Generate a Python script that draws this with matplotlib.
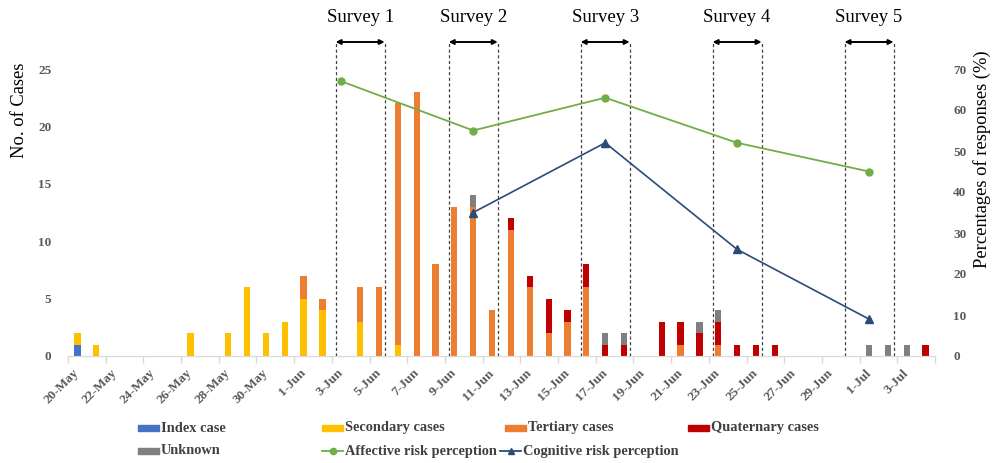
import numpy as np
import pandas as pd
import matplotlib
matplotlib.use('Agg')
import matplotlib.pyplot as plt
from matplotlib.patches import Rectangle
from matplotlib.lines import Line2D

# Daily case counts by generation, 20-May to 4-Jul
dates = pd.date_range('2020-05-20', '2020-07-04', freq='D')
date_labels = [f"{d.day}-{d.strftime('%b')}" for d in dates]

index_case = [1, 0, 0, 0, 0, 0, 0, 0, 0, 0, 0, 0, 0, 0, 0, 0,
              0, 0, 0, 0, 0, 0, 0, 0, 0, 0, 0, 0, 0, 0, 0, 0,
              0, 0, 0, 0, 0, 0, 0, 0, 0, 0, 0, 0, 0, 0]
secondary = [1, 1, 0, 0, 0, 0, 2, 0, 2, 6, 2, 3, 5, 4, 0, 3,
             0, 1, 0, 0, 0, 0, 0, 0, 0, 0, 0, 0, 0, 0, 0, 0,
             0, 0, 0, 0, 0, 0, 0, 0, 0, 0, 0, 0, 0, 0]
tertiary = [0, 0, 0, 0, 0, 0, 0, 0, 0, 0, 0, 0, 2, 1, 0, 3,
            6, 21, 23, 8, 13, 13, 4, 11, 6, 2, 3, 6, 0, 0, 0, 0,
            1, 0, 1, 0, 0, 0, 0, 0, 0, 0, 0, 0, 0, 0]
quaternary = [0, 0, 0, 0, 0, 0, 0, 0, 0, 0, 0, 0, 0, 0, 0, 0,
              0, 0, 0, 0, 0, 0, 0, 1, 1, 3, 1, 2, 1, 1, 0, 3,
              2, 2, 2, 1, 1, 1, 0, 0, 0, 0, 0, 0, 0, 1]
unknown = [0, 0, 0, 0, 0, 0, 0, 0, 0, 0, 0, 0, 0, 0, 0, 0,
           0, 0, 0, 0, 0, 1, 0, 0, 0, 0, 0, 0, 1, 1, 0, 0,
           0, 1, 1, 0, 0, 0, 0, 0, 0, 0, 1, 1, 1, 0]

# Survey results (% of responses)
affective_dates = ['3-Jun', '10-Jun', '17-Jun', '24-Jun', '1-Jul']
affective = [67, 55, 63, 52, 45]
cognitive_dates = ['10-Jun', '17-Jun', '24-Jun', '1-Jul']
cognitive = [35, 52, 26, 9]

# Survey windows on the date axis (category units)
survey_names = ['Survey 1', 'Survey 2', 'Survey 3', 'Survey 4', 'Survey 5']
survey_start = [13.7, 19.7, 26.7, 33.7, 40.7]
survey_end = [16.3, 22.3, 29.3, 36.3, 43.3]

SERIF = 'Liberation Serif'
TICK_GREY = '#595959'
colors = {
    'Index case': '#4472C4',
    'Secondary cases': '#FFC000',
    'Tertiary cases': '#ED7D31',
    'Quaternary cases': '#C00000',
    'Unknown': '#7F7F7F',
}
GREEN = '#70AD47'
NAVY = '#2B4A7A'

W, H = 992, 463
fig = plt.figure(figsize=(W / 100, H / 100), dpi=100)
fig.subplots_adjust(left=68 / W, right=935 / W, bottom=1 - 356 / H, top=1 - 69 / H)
ax = fig.add_subplot(111)
ax2 = ax.twinx()

x = np.arange(len(dates))
pos = {lab: i for i, lab in enumerate(date_labels)}

# stacked bars
bottom = np.zeros(len(x))
for name, vals in [('Index case', index_case), ('Secondary cases', secondary),
                   ('Tertiary cases', tertiary), ('Quaternary cases', quaternary),
                   ('Unknown', unknown)]:
    vals = np.array(vals, dtype=float)
    ax.bar(x, vals, width=0.33, bottom=bottom, color=colors[name], zorder=2)
    bottom += vals

ax.set_xlim(-0.5, len(x) - 0.5)
ax.set_ylim(0, 25)
ax.set_yticks(range(0, 26, 5))
ax2.set_ylim(0, 70)
ax2.set_yticks(range(0, 71, 10))

# x axis: labels every second day, small ticks on the category boundaries
ax.set_xticks(x[::2])
ax.set_xticklabels(date_labels[::2], rotation=45, ha='right', va='center',
                   rotation_mode='anchor')
ax.set_xticks(np.arange(-0.5, len(x), 2), minor=True)
ax.tick_params(axis='x', which='major', length=0, pad=11)
ax.tick_params(axis='x', which='minor', length=5, color='#D9D9D9', width=1)
ax.tick_params(axis='y', length=0, pad=12)
ax2.tick_params(axis='y', length=0, pad=13)

for a in (ax, ax2):
    for s in ('top', 'left', 'right'):
        a.spines[s].set_visible(False)
    a.spines['bottom'].set_color('#D9D9D9')
    for lab in a.get_xticklabels() + a.get_yticklabels():
        lab.set_fontfamily(SERIF)
        lab.set_fontweight('bold')
        lab.set_color(TICK_GREY)
        lab.set_fontsize(9.5)

# risk perception lines
ax2.plot([pos[d] for d in affective_dates], affective, color=GREEN, lw=1.3,
         marker='o', ms=5, zorder=4)
ax2.plot([pos[d] for d in cognitive_dates], cognitive, color=NAVY, lw=1.2,
         marker='^', ms=5.5, zorder=4)

# survey windows: dashed bounds, double arrow and title above the plot
trans = ax.get_xaxis_transform()
top_y = (356 - 42) / 287
for name, x0, x1 in zip(survey_names, survey_start, survey_end):
    for xv in (x0, x1):
        ax.plot([xv, xv], [0, top_y], transform=trans, color='#404040',
                lw=0.9, ls=(0, (2.5, 2)), clip_on=False, zorder=3)
    ax.annotate('', xy=(x1, top_y), xytext=(x0, top_y), xycoords=trans,
                textcoords=trans,
                arrowprops=dict(arrowstyle='<|-|>', color='black', lw=1.4,
                                mutation_scale=7, shrinkA=0, shrinkB=0))
    ax.text((x0 + x1) / 2, (356 - 18) / 287, name, transform=trans,
            ha='center', va='center', fontfamily=SERIF, fontsize=13.5)

fig.text(20 / W, 1 - 110 / H, 'No. of Cases', rotation=90, ha='center',
         va='center', fontfamily=SERIF, fontsize=13.3)
fig.text(982 / W, 1 - 159 / H, 'Percentages of responses (%)', rotation=90,
         ha='center', va='center', fontfamily=SERIF, fontsize=13.3)

# legend laid out in pixel coordinates below the axis
lax = fig.add_axes([0, 0, 1, 1], facecolor='none')
lax.set_xlim(0, W)
lax.set_ylim(H, 0)
lax.axis('off')
leg_font = dict(fontfamily=SERIF, fontweight='bold', fontsize=10.4,
                color='#404040', va='center', ha='left')
patch_items = [('Index case', 138, 428), ('Secondary cases', 322, 428),
               ('Tertiary cases', 505, 428), ('Quaternary cases', 688, 428),
               ('Unknown', 138, 451)]
for name, px, py in patch_items:
    lax.add_patch(Rectangle((px, py - 3), 21, 6, color=colors[name]))
    lax.text(px + 23, py, name, **leg_font)
line_items = [('Affective risk perception', 322, 451, GREEN, 'o', 4.5),
              ('Cognitive risk perception', 500, 451, NAVY, '^', 5)]
for name, px, py, col, mk, ms in line_items:
    lax.add_line(Line2D([px, px + 21], [py, py], color=col, lw=1.3))
    lax.add_line(Line2D([px + 10.5], [py], color=col, marker=mk, ms=ms))
    lax.text(px + 23, py, name, **leg_font)

fig.savefig('out.png', dpi=100)
